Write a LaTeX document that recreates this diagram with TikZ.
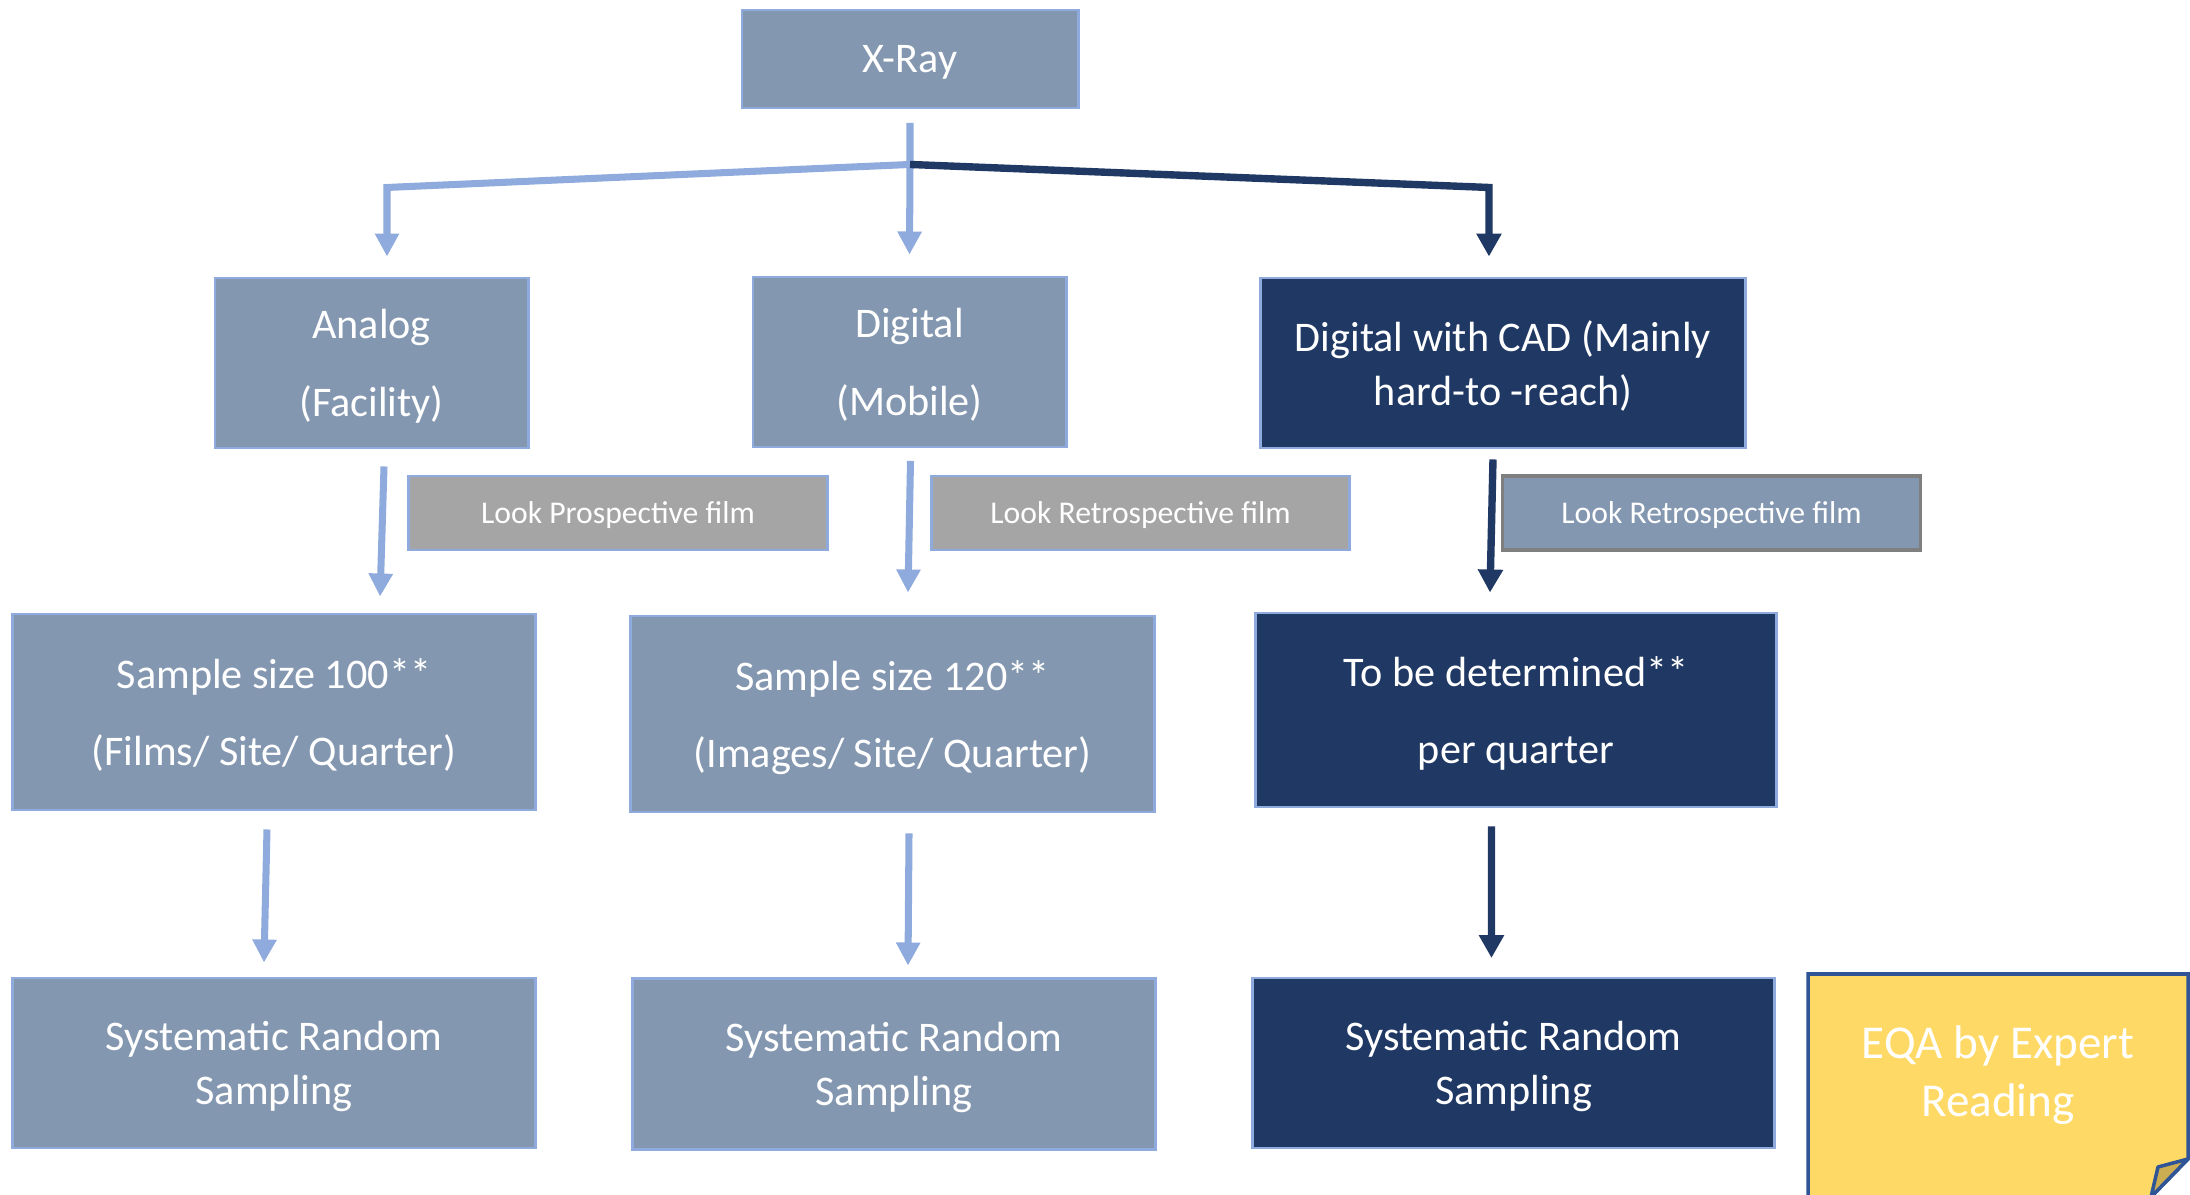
\documentclass[tikz,border=0pt]{standalone}
\usepackage{fontspec}
\setmainfont{Carlito}
\usetikzlibrary{arrows.meta}
\definecolor{steel}{HTML}{8497B0}
\definecolor{paleblue}{HTML}{8FAADC}
\definecolor{navy}{HTML}{203864}
\definecolor{midgray}{HTML}{A5A5A5}
\definecolor{darkgray}{HTML}{7F7F7F}
\definecolor{notefill}{HTML}{FFD966}
\definecolor{noteline}{HTML}{2F5597}
\definecolor{flapfill}{HTML}{CDAD52}

\begin{document}
\begin{tikzpicture}[x=0.01cm, y=-0.01cm,
    box/.style={draw=paleblue, line width=0.8pt, fill=steel, text=white, align=center, inner sep=0pt, text depth=0pt},
    navybox/.style={box, fill=navy},
    wide/.style={font=\fontsize{12}{22}\selectfont},
    tight/.style={font=\fontsize{12}{15.5}\selectfont},
    tag/.style={draw=paleblue, line width=0.8pt, fill=midgray, text=white, font=\fontsize{9}{11}\selectfont, minimum width=4.18cm, minimum height=0.74cm, inner sep=0pt, text depth=0pt},
    lightarr/.style={draw=paleblue, line width=2pt, -{Triangle[width=0.23cm, length=0.23cm]}},
    darkarr/.style={draw=navy, line width=2.1pt, -{Triangle[width=0.24cm, length=0.23cm]}}]
    \useasboundingbox (0,0) rectangle (2190,1195);

    \node [box, wide, minimum width=3.36cm, minimum height=0.98cm] (xray) at (910,59) {X-Ray};

    \node [box, wide, minimum width=3.13cm, minimum height=1.7cm] (analog) at (371.5,363) {Analog\\(Facility)};
    \node [box, wide, minimum width=3.13cm, minimum height=1.7cm] (digital) at (909.5,362) {Digital\\(Mobile)};
    \node [navybox, tight, minimum width=4.84cm, minimum height=1.7cm] (cad) at (1503,363) {Digital with CAD (Mainly\\hard-to -reach)};

    \node [tag] (lookpro) at (618,513) {Look Prospective film};
    \node [tag] (lookretro) at (1140.5,513) {Look Retrospective film};
    \node [tag, fill=steel, draw=darkgray, line width=1pt] (lookretrocad) at (1711.5,513) {Look Retrospective film};

    \node [box, wide, minimum width=5.22cm, minimum height=1.96cm] (s100) at (274,712) {Sample size 100**\\(Films/ Site/ Quarter)};
    \node [box, wide, minimum width=5.23cm, minimum height=1.96cm] (s120) at (892.5,714) {Sample size 120**\\(Images/ Site/ Quarter)};
    \node [navybox, wide, minimum width=5.21cm, minimum height=1.94cm] (tbd) at (1516,710) {To be determined**\\per quarter};

    \node [box, tight, minimum width=5.22cm, minimum height=1.7cm] (sys1) at (274,1063) {Systematic Random\\Sampling};
    \node [box, tight, minimum width=5.22cm, minimum height=1.71cm] (sys2) at (894,1064) {Systematic Random\\Sampling};
    \node [navybox, tight, minimum width=5.21cm, minimum height=1.7cm] (sys3) at (1513.5,1063) {Systematic Random\\Sampling};

    % folded note
    \draw [fill=notefill, draw=noteline, line width=1pt] (1808,974) -- (2188,974) -- (2188,1159) -- (2151,1197) -- (1808,1197) -- cycle;
    \draw [fill=flapfill, draw=noteline, line width=1pt, line join=round] (2188,1159) -- (2158,1167) -- (2151,1197) -- cycle;
    \node [text=white, align=center, font=\fontsize{13.4}{16.5}\selectfont, text depth=0pt] (eqa) at (1998,1071) {EQA by Expert\\Reading};

    \coordinate (split) at ([yshift=-0.55cm]xray.south);
    \draw [lightarr] ([yshift=-0.135cm]xray.south) -- (split) -- ([xshift=0.155cm, yshift=0.89cm]analog.north) -- ([xshift=0.155cm, yshift=0.2cm]analog.north);
    \draw [lightarr] (split) -- ([yshift=0.21cm]digital.north);
    \draw [darkarr] (split) -- ([xshift=-0.14cm, yshift=0.89cm]cad.north) -- ([xshift=-0.14cm, yshift=0.2cm]cad.north);

    \draw [lightarr] ([xshift=0.125cm, yshift=-0.17cm]analog.south) -- ([xshift=1.06cm, yshift=0.16cm]s100.north);
    \draw [lightarr] ([xshift=0.01cm, yshift=-0.125cm]digital.south) -- ([xshift=0.155cm, yshift=0.22cm]s120.north);
    \draw [darkarr] ([xshift=-0.1cm, yshift=-0.1cm]cad.south) -- ([xshift=-0.26cm, yshift=0.19cm]tbd.north);

    \draw [lightarr] ([xshift=-0.07cm, yshift=-0.18cm]s100.south) -- ([xshift=-0.1cm, yshift=0.14cm]sys1.north);
    \draw [lightarr] ([xshift=0.165cm, yshift=-0.2cm]s120.south) -- ([xshift=0.14cm, yshift=0.115cm]sys2.north);
    \draw [darkarr] ([xshift=-0.245cm, yshift=-0.18cm]tbd.south) -- ([xshift=-0.22cm, yshift=0.185cm]sys3.north);
\end{tikzpicture}
\end{document}
